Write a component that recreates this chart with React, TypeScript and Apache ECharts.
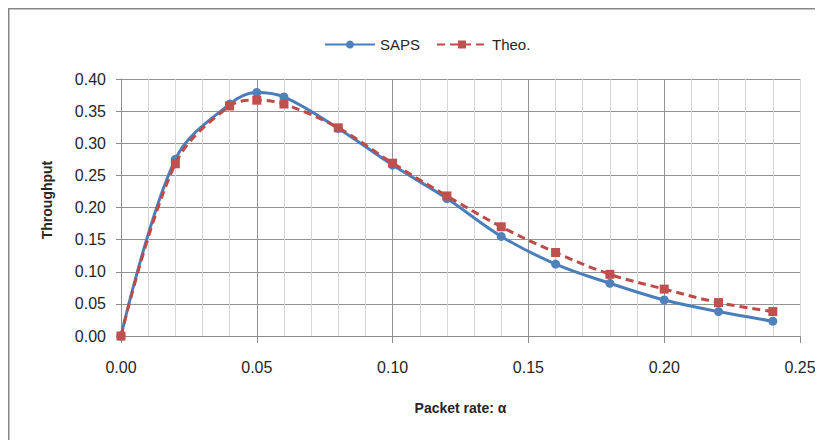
import React, { useEffect, useRef } from "react";
import * as echarts from "echarts";

const xValues = [0, 0.02, 0.04, 0.05, 0.06, 0.08, 0.1, 0.12, 0.14, 0.16, 0.18, 0.2, 0.22, 0.24];
const sapsValues = [0, 0.275, 0.361, 0.379, 0.372, 0.323, 0.266, 0.214, 0.155, 0.112, 0.082, 0.056, 0.038, 0.023];
const theoValues = [0, 0.268, 0.358, 0.367, 0.361, 0.324, 0.269, 0.218, 0.17, 0.13, 0.096, 0.073, 0.052, 0.038];
const seriesNames = ["SAPS", "Theo."];
const xTitle = "Packet rate: α";
const yTitle = "Throughput";

const FONT = "'Liberation Sans', Arial, sans-serif";
const TEXT = "#262626";
const MAJOR = "#939393";
const MINOR = "#d6d6d6";

export default function App() {
  const ref = useRef<HTMLDivElement>(null);
  useEffect(() => {
    if (!ref.current) return;
    const chart = echarts.init(ref.current, null, { renderer: "svg" });
    const sapsData = xValues.map((x, i) => [x, sapsValues[i]]);
    const theoData = xValues.map((x, i) => [x, theoValues[i]]);
    chart.setOption({
      animation: false,
      backgroundColor: "#ffffff",
      textStyle: { fontFamily: FONT },
      graphic: [
        {
          type: "rect",
          shape: { x: 0.75, y: 0.75, width: 1000, height: 1000 },
          style: { fill: "none", stroke: "#868686", lineWidth: 1.5 },
          silent: true,
        },
        {
          type: "text",
          x: 39,
          y: 192,
          rotation: Math.PI / 2,
          silent: true,
          style: {
            text: yTitle,
            fill: TEXT,
            font: "bold 14px " + FONT,
            align: "center",
            verticalAlign: "middle",
          },
        },
      ],
      legend: {
        left: 311,
        top: 24,
        itemWidth: 50,
        itemHeight: 10,
        itemGap: 16,
        textStyle: { fontFamily: FONT, fontSize: 15, color: TEXT },
        data: seriesNames,
      },
      grid: { left: 113, right: 23, top: 71, bottom: 104, containLabel: false },
      xAxis: {
        type: "value",
        min: 0,
        max: 0.25,
        interval: 0.05,
        name: xTitle,
        nameLocation: "middle",
        nameGap: 65,
        nameTextStyle: { fontFamily: FONT, fontSize: 14, fontWeight: "bold", color: TEXT },
        axisLine: { show: true, lineStyle: { color: "#8c8c8c", width: 1 } },
        axisTick: { show: true, length: 7, lineStyle: { color: "#8c8c8c" } },
        axisLabel: {
          margin: 23,
          fontSize: 16,
          color: TEXT,
          fontFamily: FONT,
          formatter: (v: number) => v.toFixed(2),
        },
        splitLine: { show: true, lineStyle: { color: [MAJOR, MAJOR, MAJOR, MAJOR, MAJOR, MINOR], width: 1 } },
        minorTick: { show: false, splitNumber: 5 },
        minorSplitLine: { show: true, lineStyle: { color: MINOR, width: 1 } },
      },
      yAxis: {
        type: "value",
        min: 0,
        max: 0.4,
        interval: 0.05,
        axisLine: { show: true, lineStyle: { color: "#8c8c8c", width: 1 } },
        axisTick: { show: true, length: 5, lineStyle: { color: "#8c8c8c" } },
        axisLabel: {
          margin: 15,
          fontSize: 16,
          color: TEXT,
          fontFamily: FONT,
          formatter: (v: number) => v.toFixed(2),
        },
        splitLine: { show: true, lineStyle: { color: MAJOR, width: 1 } },
      },
      series: [
        {
          name: seriesNames[0],
          type: "line",
          data: sapsData,
          smooth: 0.35,
          symbol: "circle",
          symbolSize: 9,
          itemStyle: { color: "#4F81BD" },
          lineStyle: { color: "#4A7EBB", width: 3 },
          z: 2,
        },
        {
          name: seriesNames[1],
          type: "line",
          data: theoData,
          smooth: 0.35,
          symbol: "rect",
          symbolSize: 9,
          itemStyle: { color: "#C0504D" },
          lineStyle: { color: "#BE4B48", width: 3, type: [8, 5] },
          z: 3,
        },
      ],
    });
    return () => chart.dispose();
  }, []);
  return <div ref={ref} style={{ width: 815, height: 432 }} />;
}
